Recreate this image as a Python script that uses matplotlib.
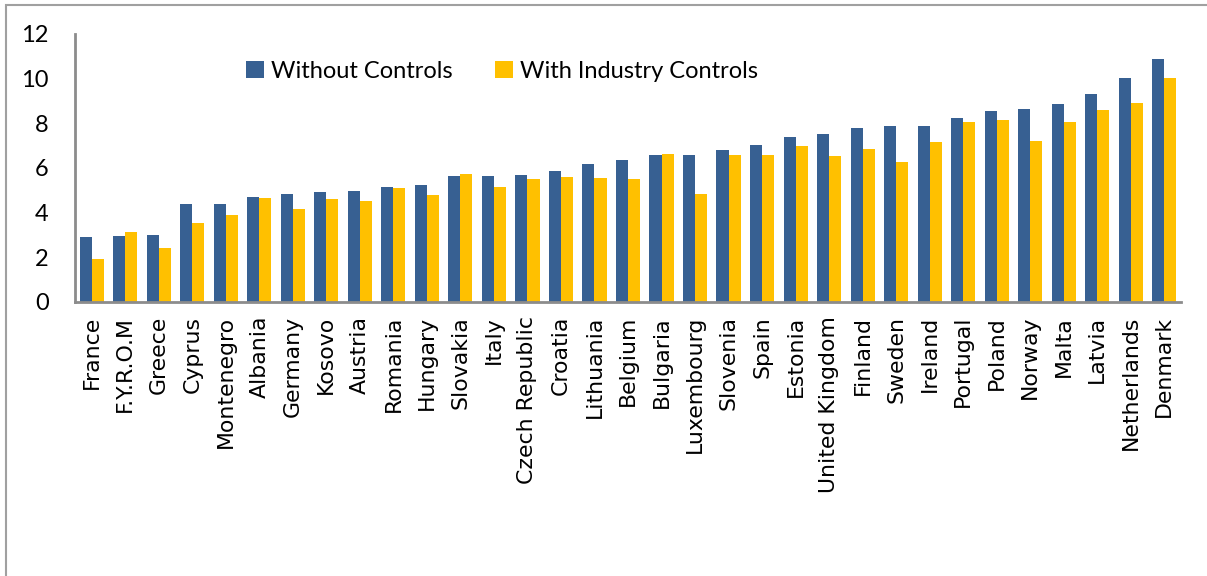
import matplotlib.pyplot as plt
import matplotlib.patches as patches
from matplotlib.font_manager import FontProperties
import numpy as np

W, H = 1207, 576

countries = ['France', 'F.Y.R.O.M', 'Greece', 'Cyprus', 'Montenegro', 'Albania',
             'Germany', 'Kosovo', 'Austria', 'Romania', 'Hungary', 'Slovakia',
             'Italy', 'Czech Republic', 'Croatia', 'Lithuania', 'Belgium',
             'Bulgaria', 'Luxembourg', 'Slovenia', 'Spain', 'Estonia',
             'United Kingdom', 'Finland', 'Sweden', 'Ireland', 'Portugal',
             'Poland', 'Norway', 'Malta', 'Latvia', 'Netherlands', 'Denmark']

without_controls = [2.91, 2.94, 3.00, 4.37, 4.38, 4.71, 4.83, 4.92, 4.95, 5.13,
                    5.22, 5.65, 5.65, 5.68, 5.85, 6.19, 6.38, 6.56, 6.59, 6.79,
                    7.01, 7.41, 7.53, 7.79, 7.86, 7.86, 8.26, 8.56, 8.64, 8.87,
                    9.31, 10.02, 10.87]

with_industry = [1.92, 3.15, 2.42, 3.53, 3.88, 4.65, 4.16, 4.61, 4.52, 5.11,
                 4.79, 5.73, 5.13, 5.49, 5.61, 5.56, 5.50, 6.62, 4.85, 6.56,
                 6.58, 6.98, 6.52, 6.85, 6.26, 7.17, 8.08, 8.16, 7.19, 8.08,
                 8.59, 8.92, 10.05]

yticks = [0, 2, 4, 6, 8, 10, 12]

BLUE = '#376092'
YELLOW = '#FFC000'
GREY = '#8C8C8C'

lato = FontProperties(family='Lato', size=17)
xfont = FontProperties(family='DejaVu Sans', size=15.8)

fig = plt.figure(figsize=(W / 100, H / 100), dpi=100)

# outer chart border (Excel style)
border = patches.Rectangle((6 / W, -0.1), 1.2, 1 - 5 / H + 0.1, transform=fig.transFigure,
                           fill=False, edgecolor='#A0A0A0', linewidth=1.5)
fig.patches.append(border)

ax = fig.add_axes([75 / W, 1 - 302 / H, (1181 - 75) / W, (302 - 34) / H])

x = np.arange(len(countries))
bw = 0.36
ax.bar(x - bw / 2, without_controls, bw, color=BLUE, label='Without Controls')
ax.bar(x + bw / 2, with_industry, bw, color=YELLOW, label='With Industry Controls')

ax.set_xlim(-0.5, len(countries) - 0.5)
ax.set_ylim(0, 12)
ax.set_yticks(yticks)
ax.set_yticklabels([str(v) for v in yticks])
ax.set_xticks(x)
ax.set_xticklabels(countries, rotation=90)
ax.tick_params(axis='y', length=0, pad=19)
ax.tick_params(axis='x', length=0, pad=10)
for lab in ax.get_yticklabels():
    lab.set_fontproperties(lato)
for lab in ax.get_xticklabels():
    lab.set_fontproperties(xfont)

for s in ['top', 'right']:
    ax.spines[s].set_visible(False)
for s in ['left', 'bottom']:
    ax.spines[s].set_color(GREY)
    ax.spines[s].set_linewidth(2)

ax.legend(loc='upper left', bbox_to_anchor=(0.146, 0.935), ncol=2, frameon=False,
          prop=lato, handlelength=0.75, handleheight=0.75,
          handletextpad=0.3, columnspacing=1.8, borderaxespad=0)

fig.savefig('out.png', dpi=100)
